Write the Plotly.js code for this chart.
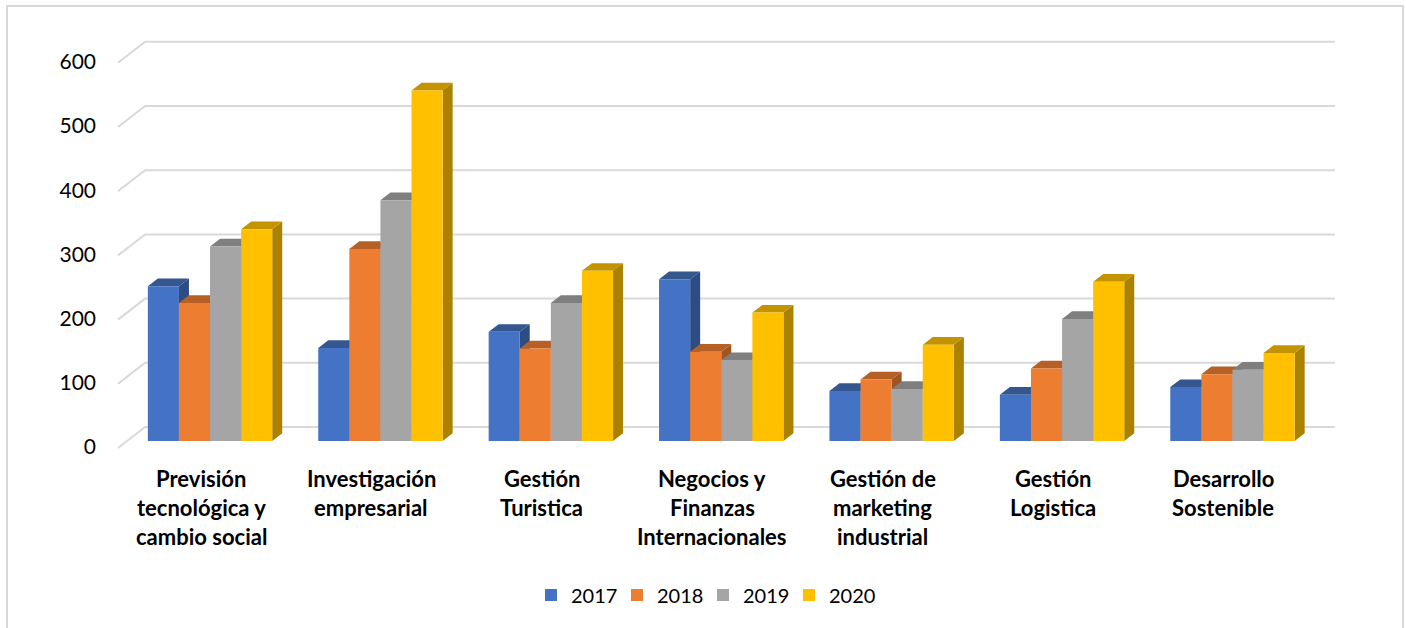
<!DOCTYPE html>
<html>
<head>
<meta charset="utf-8">
<script src="https://cdn.plot.ly/plotly-3.0.1.min.js"></script>
<style>html,body{margin:0;padding:0;background:#fff;}#chart{width:1406px;height:628px;}</style>
</head>
<body>
<div id="chart"></div>
<script>
// ---- data ----
const categories = [
  "Previsión<br>tecnológica y<br>cambio social",
  "Investigación<br>empresarial",
  "Gestión<br>Turistica",
  "Negocios y<br>Finanzas<br>Internacionales",
  "Gestión de<br>marketing<br>industrial",
  "Gestión<br>Logistica",
  "Desarrollo<br>Sostenible"
];
const years = ["2017", "2018", "2019", "2020"];
const v2017 = [241, 145, 170, 252, 78, 72, 84];
const v2018 = [215, 299, 144, 139, 96, 113, 104];
const v2019 = [303, 375, 215, 126, 81, 190, 111];
const v2020 = [330, 546, 265, 200, 150, 248, 137];
const yTicks = [0, 100, 200, 300, 400, 500, 600];

// ---- styling ----
const frontCol = ['#4472C4', '#ED7D31', '#A5A5A5', '#FFC000'];
const sideCol  = ['#2D4C83', '#9F5421', '#6E6E6E', '#AB8100'];
const topCol   = ['#34578F', '#B66026', '#7F7F7F', '#C49400'];
const FONT = 'Lato, "Open Sans", sans-serif';

const PXX = 170.4;   // pixels per category unit
const PXY = 0.642;   // pixels per value unit
const BW = 0.73 / 4; // bar width (category units)
const dX = 10 / PXX, dY = 7.7 / PXY; // 3D depth of bars
const series = [v2017, v2018, v2019, v2020];
const idx = categories.map((c, i) => i);

const xRange = [-0.587, 6.631];
const yRange = [-14, 624.6];

const traces = [];
// side faces
series.forEach((vals, k) => {
  const xs = [], ys = [];
  vals.forEach((v, i) => {
    const xl = i - 2 * BW + k * BW, xr = xl + BW;
    xs.push(xr, xr + dX, xr + dX, xr, xr, null);
    ys.push(0, dY, v + dY, v, 0, null);
  });
  traces.push({type: 'scatter', mode: 'lines', x: xs, y: ys, fill: 'toself',
    fillcolor: sideCol[k], line: {width: 0, color: sideCol[k]},
    hoverinfo: 'skip', showlegend: false, xaxis: 'x', yaxis: 'y'});
});
// top faces
series.forEach((vals, k) => {
  const xs = [], ys = [];
  vals.forEach((v, i) => {
    const xl = i - 2 * BW + k * BW, xr = xl + BW;
    xs.push(xl, xr, xr + dX, xl + dX, xl, null);
    ys.push(v, v, v + dY, v + dY, v, null);
  });
  traces.push({type: 'scatter', mode: 'lines', x: xs, y: ys, fill: 'toself',
    fillcolor: topCol[k], line: {width: 0, color: topCol[k]},
    hoverinfo: 'skip', showlegend: false, xaxis: 'x', yaxis: 'y'});
});
// front faces (bars)
series.forEach((vals, k) => {
  traces.push({type: 'bar', name: years[k], x: idx, y: vals,
    width: BW, offset: -2 * BW + k * BW,
    marker: {color: frontCol[k], line: {width: 0}},
    xaxis: 'x2', yaxis: 'y2'});
});

// gridlines drawn on the back wall with a slanted floor part
const gx0 = -0.540, gx1 = -0.381, gx2 = 6.602;
const shapes = yTicks.map(t => ({
  type: 'path', xref: 'x', yref: 'y', layer: 'below',
  path: `M ${gx0} ${t - 10.9} L ${gx1} ${t + 21.8} L ${gx2} ${t + 21.8}`,
  line: {color: '#D9D9D9', width: 2}
}));
// outer frame
const L = 110, T = 40, PW = 1230, PH = 410;
const px = p => (p - L) / PW, py = p => (T + PH - p) / PH;
shapes.push({type: 'rect', xref: 'paper', yref: 'paper',
  x0: px(7), x1: px(1403), y0: py(6), y1: py(660),
  line: {color: '#D9D9D9', width: 2}, fillcolor: 'rgba(0,0,0,0)'});

// category labels (one annotation per line to mimic Excel line spacing)
const annotations = [];
categories.forEach((c, i) => {
  c.split('<br>').forEach((line, j) => {
    annotations.push({xref: 'x', yref: 'paper', x: i - 9 / PXX, y: py(478 + 29 * j),
      text: '<b>' + line + '</b>', showarrow: false, xanchor: 'center', yanchor: 'middle',
      font: {family: FONT, size: 22, color: '#000'}});
  });
});

const layout = {
  width: 1406, height: 628,
  margin: {l: L, r: 1406 - L - PW, t: T, b: 628 - T - PH, pad: 0},
  paper_bgcolor: '#fff', plot_bgcolor: 'rgba(0,0,0,0)',
  barmode: 'overlay',
  showlegend: true,
  legend: {orientation: 'h', x: px(703), xanchor: 'center', y: py(595), yanchor: 'middle',
    font: {family: FONT, size: 20, color: '#000'}, entrywidth: 41, traceorder: 'normal'},
  xaxis: {range: xRange, showgrid: false, zeroline: false, showline: false, showticklabels: false, ticks: ''},
  yaxis: {range: yRange, tickvals: yTicks, ticktext: yTicks.map(String), showgrid: false, zeroline: false,
    showline: false, ticks: '', ticklabelshift: 6, ticklabelstandoff: 13,
    tickfont: {family: FONT, size: 21, color: '#000'}},
  xaxis2: {range: xRange, overlaying: 'x', visible: false},
  yaxis2: {range: yRange, overlaying: 'y', visible: false},
  shapes: shapes,
  annotations: annotations
};

Plotly.newPlot('chart', traces, layout, {displayModeBar: false, staticPlot: true});
</script>
</body>
</html>
